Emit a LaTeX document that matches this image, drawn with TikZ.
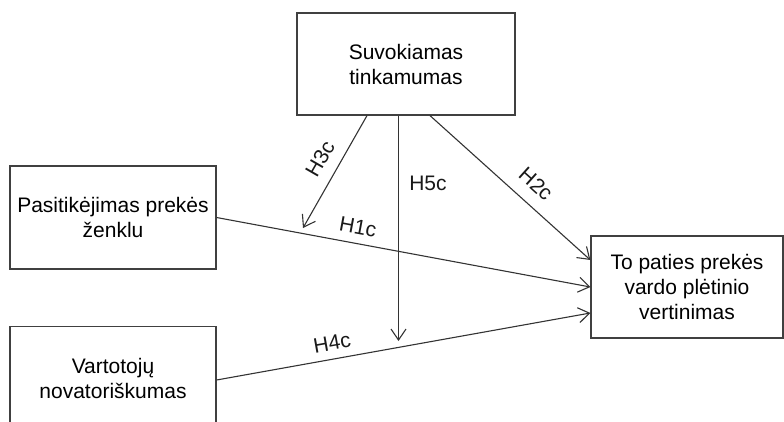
\documentclass[tikz,border=0pt]{standalone}
\usepackage{fontspec}
\setmainfont{Liberation Sans}
\usepackage{tikz}
\usetikzlibrary{calc,arrows.meta}

\tikzset{
  box/.style={draw=black!75,line width=1.2pt,rectangle,align=center,inner sep=0pt},
  lbl/.style={inner sep=0pt,text=black!90},
  link/.style={->,draw=black!80,line width=1.1pt}
}

\begin{document}
\begin{tikzpicture}[x=1pt,y=-1pt,>={Straight Barb[length=11pt,width=15pt,line width=1.1pt]},
  font=\fontsize{21}{25}\selectfont]
  \useasboundingbox (0,0) rectangle (784,421);
  % variables
  \node[box,minimum width=218pt,minimum height=102pt] (fit) at (406,64) {Suvokiamas\\tinkamumas};
  \node[box,minimum width=206pt,minimum height=103pt] (trust) at (113,217.5) {Pasitikėjimas prekės\\ženklu};
  \node[box,minimum width=206pt,minimum height=103pt] (innov) at (113,378) {Vartotojų\\novatoriškumas};
  \node[box,minimum width=192pt,minimum height=102pt] (eval) at (687,287) {To paties prekės\\vardo plėtinio\\vertinimas};
  % free ends of the moderating arrows
  \coordinate (h3end) at (303,228);
  \coordinate (h5end) at (398.5,341);
  % paths
  \draw[link] (trust.east) -- ($(eval.west)+(0,0)$);
  \draw[link] (innov.east |- 0,380) -- ($(eval.west)+(0,26)$);
  \draw[link] ($(fit.south)+(24,0)$) -- ($(eval.west)+(0,-27)$);
  \draw[link] ($(fit.south)+(-39,0)$) -- (h3end);
  \draw[link] ($(fit.south)+(-7.5,0)$) -- (h5end);
  % hypotheses
  \node[lbl,rotate=60] (h3) at (320,159) {H3c};
  \node[lbl] (h5) at (428,183) {H5c};
  \node[lbl,rotate=-42] (h2) at (536,184) {H2c};
  \node[lbl,rotate=-10.6] (h1) at (358,227) {H1c};
  \node[lbl,rotate=10.1] (h4) at (332,343) {H4c};
\end{tikzpicture}
\end{document}
